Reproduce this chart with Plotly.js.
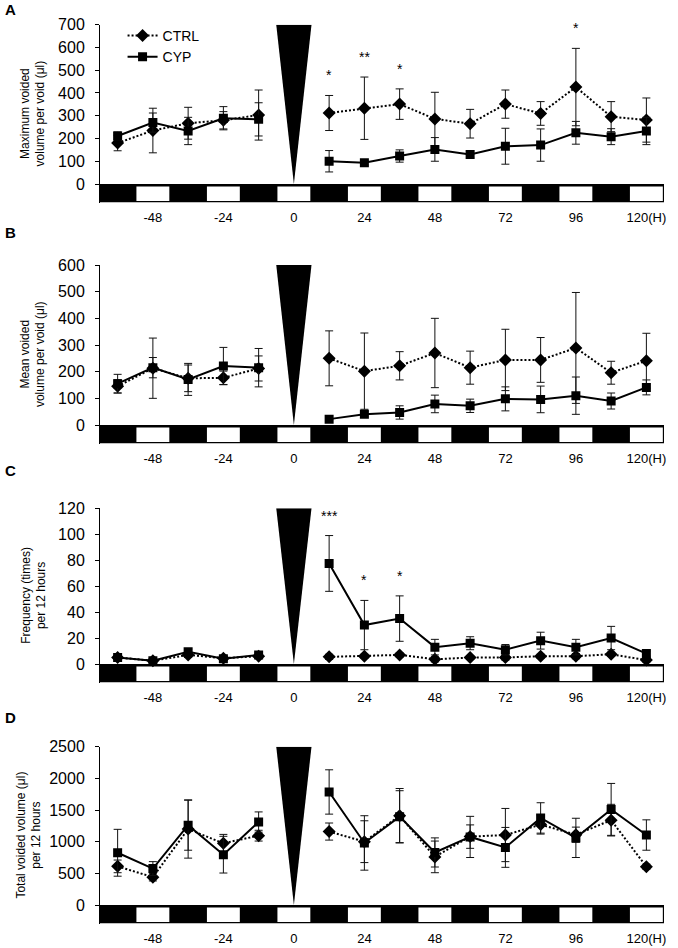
<!DOCTYPE html>
<html><head><meta charset="utf-8">
<script src="https://cdn.plot.ly/plotly-3.0.1.min.js"></script>
<style>html,body{margin:0;padding:0;background:#fff}</style>
</head><body><div id="chart" style="width:678px;height:948px"></div>
<script>
// ---------- data ----------
const hours = [-60,-48,-36,-24,-12,0,12,24,36,48,60,72,84,96,108,120];
const tickHours = [-48,-24,0,24,48,72,96,120];
const tickLabels = ['-48','-24','0','24','48','72','96','120(H)'];
const seriesNames = ['CTRL','CYP'];

// A: maximum voided volume per void (µl)
const maxCtrl    = [180,235,267,280,303,null,312,333,351,286,265,351,310,426,296,281];
const maxCtrlErr = [34,98,70,38,110,null,77,137,67,117,63,62,52,170,66,97];
const maxCyp     = [211,270,233,289,284,null,100,93,123,152,130,166,171,225,208,233];
const maxCypErr  = [18,42,60,51,73,null,47,10,27,52,15,79,71,50,35,60];
const maxSig     = ['','','','','','','*','**','*','','','','','*','',''];

// B: mean voided volume per void (µl)
const meanCtrl    = [145,213,175,177,212,null,250,202,222,270,215,244,244,289,196,241];
const meanCtrlErr = [25,113,50,25,47,null,103,143,53,130,62,115,84,208,43,103];
const meanCyp     = [155,215,171,221,215,null,22,40,47,79,72,98,96,110,90,141];
const meanCypErr  = [35,38,60,70,72,null,3,10,25,33,25,45,50,70,30,28];
const meanSig     = ['','','','','','','','','','','','','','','',''];

// C: frequency (times) per 12 hours
const freqCtrl    = [5,2.5,7,4.5,6,null,5.5,6,7,3.6,5,5,6,6,7.5,3];
const freqCtrlErr = [1.5,1,2,1.5,1.5,null,2,1.5,1.5,2,1.5,2,1.5,2,1.5,1.5];
const freqCyp     = [5.1,2.6,9.5,4,7,null,77.5,30,35,13,16,11,18,13,20,8];
const freqCypErr  = [1.5,1,2,1,1.5,null,21.5,19,17.5,6,5,4,6.5,6,9,2];
const freqSig     = ['','','','','','','***','*','*','','','','','','',''];

// D: total voided volume per 12 hours (µl)
const totCtrl    = [610,440,1200,975,1095,null,1160,1000,1410,760,1080,1105,1270,1110,1340,605];
const totCtrlErr = [100,60,460,140,85,null,135,330,430,250,185,420,150,120,250,40];
const totCyp     = [825,575,1260,795,1310,null,1785,980,1395,830,1075,910,1375,1060,1510,1105];
const totCypErr  = [370,110,395,290,160,null,350,430,410,230,325,315,240,310,410,240];
const totSig     = ['','','','','','','','','','','','','','','',''];

// light/dark cycle (12 h phases, starting with dark) and injection time
const cycleStart = -66, phaseHours = 12, phaseCount = 16;
const injectionHour = 0;

// ---------- layout helpers ----------
const W = 678, H = 948, ML = 100, MR = 14;
const panels = [
  {letter:'A', title:'Maximum voided<br>volume per void (μl)', ctrl:maxCtrl, ctrlErr:maxCtrlErr, cyp:maxCyp, cypErr:maxCypErr, sig:maxSig, yTop:700, dtick:100, pxTop:24.7, pxZero:184, pxBot:202.5, letterY:10, standoff:10},
  {letter:'B', title:'Mean voided<br>volume per void (μl)', ctrl:meanCtrl, ctrlErr:meanCtrlErr, cyp:meanCyp, cypErr:meanCypErr, sig:meanSig, yTop:600, dtick:100, pxTop:265, pxZero:425, pxBot:443.5, letterY:232, standoff:10},
  {letter:'C', title:'Frequency (times)<br>per 12 hours', ctrl:freqCtrl, ctrlErr:freqCtrlErr, cyp:freqCyp, cypErr:freqCypErr, sig:freqSig, yTop:120, dtick:20, pxTop:508.3, pxZero:664, pxBot:682.5, letterY:470, standoff:9},
  {letter:'D', title:'Total voided volume (μl)<br>per 12 hours', ctrl:totCtrl, ctrlErr:totCtrlErr, cyp:totCyp, cypErr:totCypErr, sig:totSig, yTop:2500, dtick:500, pxTop:746.7, pxZero:905, pxBot:923.5, letterY:717, standoff:5}
];

const FONT = 'Liberation Sans, Arial, sans-serif';
const traces = [], shapes = [], annotations = [];
const layout = {
  width: W, height: H,
  margin: {l: ML, r: MR, t: 0, b: 0},
  paper_bgcolor: '#fff', plot_bgcolor: '#fff',
  font: {family: FONT, color: '#000', size: 13},
  showlegend: true,
  legend: {x: 0.04, y: 0.979, xanchor: 'left', yanchor: 'top', font: {size: 14}, bgcolor: 'rgba(0,0,0,0)', tracegroupgap: 0},
  shapes: shapes, annotations: annotations
};

panels.forEach((p, i) => {
  const s = i === 0 ? '' : String(i + 1);
  const xa = 'x' + s, ya = 'y' + s;
  const unitsPerPx = p.yTop / (p.pxZero - p.pxTop);
  const yBottom = -(p.pxBot - p.pxZero) * unitsPerPx;

  layout['xaxis' + s] = {
    anchor: ya, domain: [0, 1], range: [cycleStart, cycleStart + phaseHours * phaseCount],
    showgrid: false, zeroline: false, showline: false, ticks: '',
    tickmode: 'array', tickvals: tickHours, ticktext: tickLabels,
    tickfont: {size: 13}, ticklabelstandoff: 5, fixedrange: true
  };
  layout['yaxis' + s] = {
    anchor: xa, domain: [1 - p.pxBot / H, 1 - p.pxTop / H], range: [yBottom, p.yTop],
    showgrid: false, zeroline: false, showline: true, linecolor: '#000', linewidth: 1,
    ticks: 'outside', ticklen: 4, tickcolor: '#000', tickmode: 'linear', tick0: 0, dtick: p.dtick,
    tickfont: {size: 16}, ticklabelstandoff: 7, fixedrange: true,
    title: {text: p.title, font: {size: 12}, standoff: p.standoff}
  };

  const common = {x: hours, xaxis: xa, yaxis: ya, mode: 'lines+markers', connectgaps: false, hoverinfo: 'skip'};
  traces.push(Object.assign({}, common, {
    y: p.ctrl, name: seriesNames[0], legendgroup: 'ctrl', showlegend: i === 0,
    line: {color: '#000', width: 2, dash: '2px,2px'},
    marker: {symbol: 'diamond', size: 10, color: '#000'},
    error_y: {type: 'data', array: p.ctrlErr, visible: true, color: '#111', thickness: 1, width: 4}
  }));
  traces.push(Object.assign({}, common, {
    y: p.cyp, name: seriesNames[1], legendgroup: 'cyp', showlegend: i === 0,
    line: {color: '#000', width: 2},
    marker: {symbol: 'square', size: 9, color: '#000'},
    error_y: {type: 'data', array: p.cypErr, visible: true, color: '#111', thickness: 1, width: 4}
  }));

  // light/dark strip
  shapes.push({type: 'rect', xref: xa, yref: ya, layer: 'below',
    x0: cycleStart, x1: cycleStart + phaseHours * phaseCount, y0: yBottom, y1: 0,
    fillcolor: '#000', line: {width: 0}});
  for (let k = 0; k < phaseCount; k++) {
    if (k % 2 === 1) {
      const a = cycleStart + k * phaseHours;
      shapes.push({type: 'rect', xref: xa, yref: ya, layer: 'below',
        x0: a + 0.4, x1: a + phaseHours - 0.4,
        y0: yBottom + 1.5 * unitsPerPx, y1: -2.5 * unitsPerPx,
        fillcolor: '#fff', line: {width: 0}});
    }
  }
  // injection triangle
  shapes.push({type: 'path', xref: xa, yref: ya, layer: 'below',
    path: `M ${injectionHour - 6},${p.yTop} L ${injectionHour + 6},${p.yTop} L ${injectionHour},0 Z`,
    fillcolor: '#000', line: {width: 0}});

  // significance marks
  p.sig.forEach((t, j) => {
    if (!t) return;
    const top = Math.max((p.ctrl[j] || 0) + (p.ctrlErr[j] || 0), (p.cyp[j] || 0) + (p.cypErr[j] || 0));
    annotations.push({xref: xa, yref: ya, x: hours[j], y: top, yshift: 20, text: t,
      showarrow: false, font: {size: 14}, xanchor: 'center', yanchor: 'middle'});
  });

  // panel letter
  annotations.push({xref: 'paper', yref: 'paper', x: (3 - ML) / (W - ML - MR), y: 1 - p.letterY / H,
    text: '<b>' + p.letter + '</b>', showarrow: false, xanchor: 'left', yanchor: 'middle', font: {size: 15}});
});

Plotly.newPlot('chart', traces, layout, {displayModeBar: false, staticPlot: true});
</script>
</body></html>
